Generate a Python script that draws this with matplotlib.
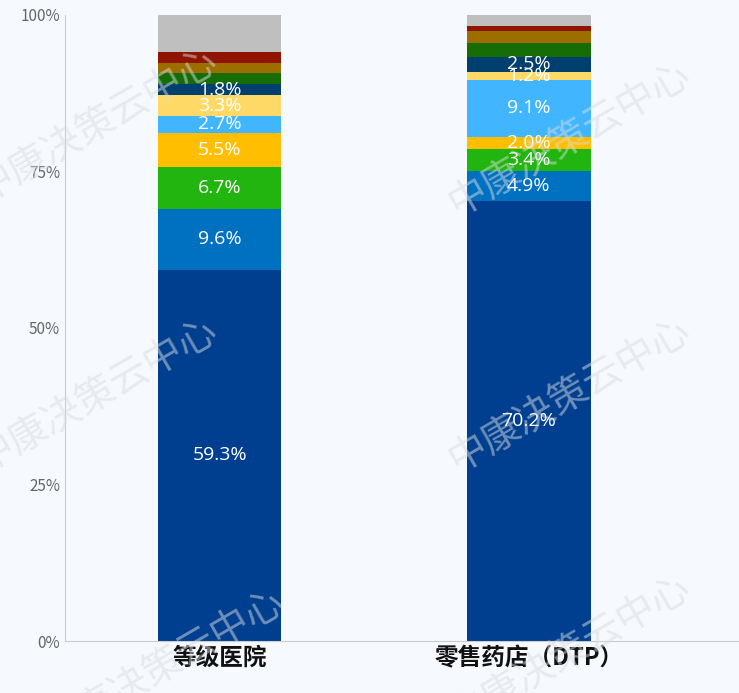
import matplotlib
matplotlib.use("Agg")
import matplotlib.pyplot as plt
import numpy as np

plt.rcParams['font.family'] = ['Noto Sans CJK SC', 'DejaVu Sans']

categories = ['等级医院', '零售药店（DTP）']
series = [
    [59.3, 70.2],
    [9.6, 4.9],
    [6.7, 3.4],
    [5.5, 2.0],
    [2.7, 9.1],
    [3.3, 1.2],
    [1.8, 2.5],
    [1.7, 2.2],
    [1.7, 1.9],
    [1.8, 0.7],
    [5.9, 1.9],
]
colors = ['#003f8f', '#0070c0', '#22b510', '#ffbf00', '#41b6ff', '#ffd966',
          '#003f6e', '#166d06', '#9c6e00', '#8f1500', '#bfbfbf']
labeled = 7

bg = '#f6f9fd'
fig = plt.figure(figsize=(7.39, 6.93), dpi=100, facecolor=bg)
ax = fig.add_axes([0.088, 0.075, 0.912, 0.904], facecolor=bg)
x = np.arange(len(categories))
bottom = np.zeros(len(categories))
for i, (vals, c) in enumerate(zip(series, colors)):
    vals = np.array(vals)
    ax.bar(x, vals, 0.4, bottom=bottom, color=c, edgecolor='none')
    if i < labeled:
        for xi, v, b in zip(x, vals, bottom):
            ax.text(xi, b + v / 2, f'{v:.1f}%', ha='center', va='center',
                    color='white', fontsize=14, family=['Open Sans', 'DejaVu Sans'])
    bottom += vals

ax.set_xlim(-0.5, 1.68)
ax.set_ylim(0, 100)
ax.set_yticks([0, 25, 50, 75, 100])
ax.set_yticklabels(['0%', '25%', '50%', '75%', '100%'], color='#666666', fontsize=11)
ax.set_xticks(x)
ax.set_xticklabels(categories, fontsize=17, fontweight='bold', color='#111111')
ax.tick_params(length=0)
for s in ['top', 'right']:
    ax.spines[s].set_visible(False)
ax.spines['left'].set_color('#cccccc')
ax.spines['bottom'].set_color('#cccccc')

for (fx, fy) in [(0.13, 0.82), (0.77, 0.80), (0.13, 0.43), (0.77, 0.43), (0.22, 0.04), (0.77, 0.06)]:
    fig.text(fx, fy, '中康决策云中心', rotation=30, fontsize=28, color='#d8dde3',
             alpha=0.5, ha='center', va='center', zorder=10)

fig.savefig('out.png', dpi=100, facecolor=bg)
